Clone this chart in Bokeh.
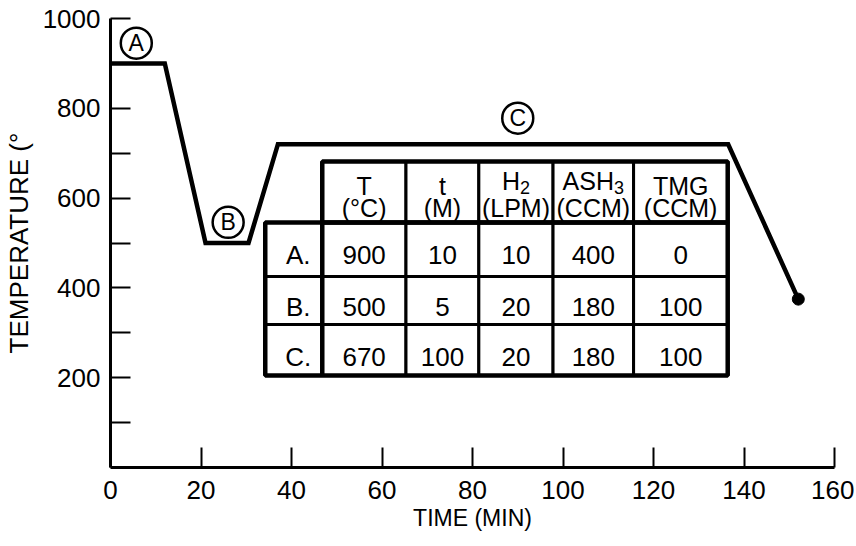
from bokeh.plotting import figure
from bokeh.models import FixedTicker, Range1d
from bokeh.core.properties import value
from bokeh.embed import file_html
from bokeh.resources import INLINE

# ---- data ----
time_min = [0, 12, 21, 30.5, 37, 136.5, 152]
temp_c = [900, 900, 500, 500, 720, 720, 375]

stage_labels = ["A", "B", "C"]
stage_x = [5.7, 26.0, 90.0]
stage_y = [945, 546, 778]

x_ticks = [0, 20, 40, 60, 80, 100, 120, 140, 160]
y_ticks = [200, 400, 600, 800, 1000]
y_minor = [100, 300, 500, 700, 900]

row_labels = ["A.", "B.", "C."]
col_names = ["T", "t", "H", "ASH", "TMG"]
col_subs = ["", "", "2", "3", ""]
col_units = ["(°C)", "(M)", "(LPM)", "(CCM)", "(CCM)"]
row_A = ["900", "10", "10", "400", "0"]
row_B = ["500", "5", "20", "180", "100"]
row_C = ["670", "100", "20", "180", "100"]
table_rows = [row_A, row_B, row_C]

# ---- layout (table geometry in plot units) ----
col_edges = [34.2, 46.8, 65.3, 81.4, 97.8, 115.6, 136.4]
row_edges = [681.5, 545.7, 425.4, 318.5, 204.9]
row_text_y = [474, 358, 245]
head1_y = 628
head1_sub_y = 639
head2_y = 577

FONT = "Liberation Sans"
ARIAL_W = {"H": 0.722, "A": 0.667, "S": 0.667, "T": 0.611, "M": 0.833, "G": 0.778, "t": 0.278}

p = figure(width=854, height=540, x_range=Range1d(0, 160), y_range=Range1d(0, 1000),
           output_backend="svg", toolbar_location=None,
           min_border_left=109, min_border_right=20, min_border_top=18, min_border_bottom=73)
p.grid.visible = False
p.outline_line_color = None
p.background_fill_color = "white"
p.border_fill_color = "white"

for ax in (p.xaxis[0], p.yaxis[0]):
    ax.axis_line_width = 3
    ax.axis_line_color = "black"
    ax.major_tick_in = 20
    ax.major_tick_out = 0
    ax.major_tick_line_width = 2
    ax.major_tick_line_color = "black"
    ax.major_label_text_font = FONT
    ax.major_label_text_font_size = "26px"
    ax.major_label_text_color = "black"
    ax.axis_label_text_font = FONT
    ax.axis_label_text_font_style = "normal"
    ax.axis_label_text_color = "black"

p.xaxis.ticker = FixedTicker(ticks=x_ticks, minor_ticks=[])
p.xaxis.minor_tick_in = 0
p.xaxis.minor_tick_out = 0
p.xaxis.major_label_standoff = 13
p.xaxis.axis_label = "TIME (MIN)"
p.xaxis.axis_label_text_font_size = "23px"
p.xaxis.axis_label_standoff = 3

p.yaxis.ticker = FixedTicker(ticks=y_ticks, minor_ticks=y_minor)
p.yaxis.minor_tick_in = 20
p.yaxis.minor_tick_out = 0
p.yaxis.minor_tick_line_width = 2
p.yaxis.minor_tick_line_color = "black"
p.yaxis.major_label_standoff = 10
p.yaxis.axis_label = "TEMPERATURE (°"
p.yaxis.axis_label_text_font_size = "26px"
p.yaxis.axis_label_standoff = 6

# ---- temperature profile ----
p.line(time_min, temp_c, line_width=4.5, line_color="black", line_join="miter")
p.scatter([time_min[-1]], [temp_c[-1]], size=12, marker="circle", color="black")

# ---- circled stage labels ----
p.scatter(stage_x, stage_y, marker="circle", size=31, fill_color="white",
          line_color="black", line_width=2.5)
p.text(stage_x, stage_y, text=stage_labels, text_align="center", text_baseline="middle",
       text_font=value(FONT), text_font_size="23px", text_color="black")

# ---- table ----
hl, hr, ht, hb = [], [], [], []
for i in range(1, 6):
    hl.append(col_edges[i]); hr.append(col_edges[i + 1])
    ht.append(row_edges[0]); hb.append(row_edges[1])
p.quad(left=hl, right=hr, top=ht, bottom=hb, fill_color="white", line_color="black", line_width=3)
bl, br, bt, bb = [], [], [], []
for r in range(3):
    for c in range(6):
        bl.append(col_edges[c]); br.append(col_edges[c + 1])
        bt.append(row_edges[r + 1]); bb.append(row_edges[r + 2])
p.quad(left=bl, right=br, top=bt, bottom=bb, fill_color="white", line_color="black", line_width=3)
p.quad(left=[col_edges[1], col_edges[0]], right=[col_edges[-1], col_edges[-1]],
       top=[row_edges[0], row_edges[1]], bottom=[row_edges[1], row_edges[-1]],
       fill_color=None, line_color="black", line_width=4.5)
p.segment(x0=[col_edges[1]], y0=[row_edges[1]], x1=[col_edges[1]], y1=[row_edges[-1]],
          line_color="black", line_width=4.5)

main_fs = 25
sub_fs = 18
centers = [(col_edges[i] + col_edges[i + 1]) / 2 for i in range(6)]
for i in range(5):
    cx = centers[i + 1]
    name = col_names[i]
    sub = col_subs[i]
    if sub:
        mw = sum(ARIAL_W.get(ch, 0.6) for ch in name) * main_fs
        sw = 0.556 * sub_fs
        total = mw + sw
        p.text([cx], [head1_sub_y], text=[name], text_align="left", text_baseline="middle",
               x_offset=-total / 2, text_font=value(FONT), text_font_size=f"{main_fs}px",
               text_color="black")
        p.text([cx], [head1_sub_y], text=[sub], text_align="left", text_baseline="middle",
               x_offset=-total / 2 + mw, y_offset=7, text_font=value(FONT),
               text_font_size=f"{sub_fs}px", text_color="black")
    else:
        p.text([cx], [head1_y], text=[name], text_align="center", text_baseline="middle",
               text_font=value(FONT), text_font_size=f"{main_fs}px", text_color="black")
p.text(centers[1:], [head2_y] * 5, text=col_units, text_align="center", text_baseline="middle",
       text_font=value(FONT), text_font_size=f"{main_fs}px", text_color="black")

tx, ty, tt = [], [], []
for r in range(3):
    tx.append(centers[0] + 1); ty.append(row_text_y[r]); tt.append(row_labels[r])
    for c in range(5):
        tx.append(centers[c + 1]); ty.append(row_text_y[r]); tt.append(table_rows[r][c])
p.text(tx, ty, text=tt, text_align="center", text_baseline="middle",
       text_font=value(FONT), text_font_size="26px", text_color="black")

open("out.html", "w").write(file_html(p, INLINE))
